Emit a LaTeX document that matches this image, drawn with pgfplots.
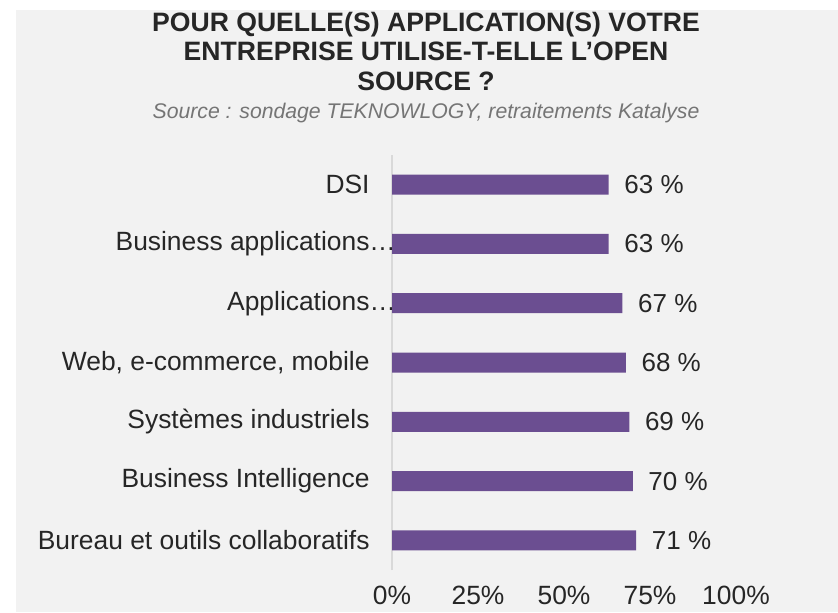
\documentclass[border=0pt]{standalone}
\usepackage{pgfplots}
\pgfplotsset{compat=1.18}
\usepackage{fontspec}
\setmainfont{Liberation Sans}
\definecolor{BarPurple}{HTML}{6B4E91}
\definecolor{PanelGray}{HTML}{F2F2F2}
\definecolor{Ink}{HTML}{262626}
\definecolor{SourceGray}{HTML}{757575}
\definecolor{AxisGray}{HTML}{D9D9D9}

\begin{document}
\begin{tikzpicture}
% page: 838x612 px at 0.5pt per px
\useasboundingbox (0,0) rectangle (419pt,-306pt);
\fill[white] (0,0) rectangle (419pt,-306pt);
\fill[PanelGray] (8pt,-5pt) rectangle (419pt,-306pt);

\begin{scope}[every node/.style={anchor=base, inner sep=0, text=Ink, font=\fontsize{13.3}{15}\selectfont\bfseries}]
\node at (213pt,-15.85pt) {POUR QUELLE(S) APPLICATION(S) VOTRE};
\node at (213pt,-30.35pt) {ENTREPRISE UTILISE-T-ELLE L’OPEN};
\node at (213pt,-45pt) {SOURCE ?};
\end{scope}
\node[anchor=base, inner sep=0, text=SourceGray, font=\fontsize{10.6}{12}\selectfont\itshape]
  at (213pt,-59pt) {Source : sondage TEKNOWLOGY, retraitements Katalyse};

\begin{axis}[
  at={(196pt,-285pt)}, anchor=south west,
  scale only axis,
  width=172pt, height=207.5pt,
  xbar, bar width=10pt,
  xmin=0, xmax=100, ymin=-0.5, ymax=6.5,
  axis lines*=left,
  x axis line style={draw=none},
  y axis line style={draw=AxisGray, line width=0.75pt},
  major tick length=0pt,
  xtick={0,25,50,75,100},
  xticklabel={\pgfmathprintnumber{\tick}\%},
  ytick={0,1,2,3,4,5,6},
  yticklabels={Bureau et outils collaboratifs, Business Intelligence, Systèmes industriels,
    {Web, e-commerce, mobile}, Applications\rlap{…}, Business applications\rlap{…}, DSI},
  /pgf/number format/assume math mode=true,
  tick label style={font=\fontsize{13.2}{15}\selectfont, text=Ink},
  xticklabel style={yshift=-4.5pt},
  yticklabel style={xshift=-7.7pt},
  point meta=x,
  nodes near coords={\pgfmathprintnumber{\pgfplotspointmeta} \%},
  every node near coord/.append style={font=\fontsize{13}{15}\selectfont, text=Ink, xshift=4.3pt},
  clip=false,
]
\addplot[draw=none, fill=BarPurple] coordinates {
  (71,0)
  (70,1)
  (69,2)
  (68,3)
  (67,4)
  (63,5)
  (63,6)
};
\end{axis}
\end{tikzpicture}
\end{document}
